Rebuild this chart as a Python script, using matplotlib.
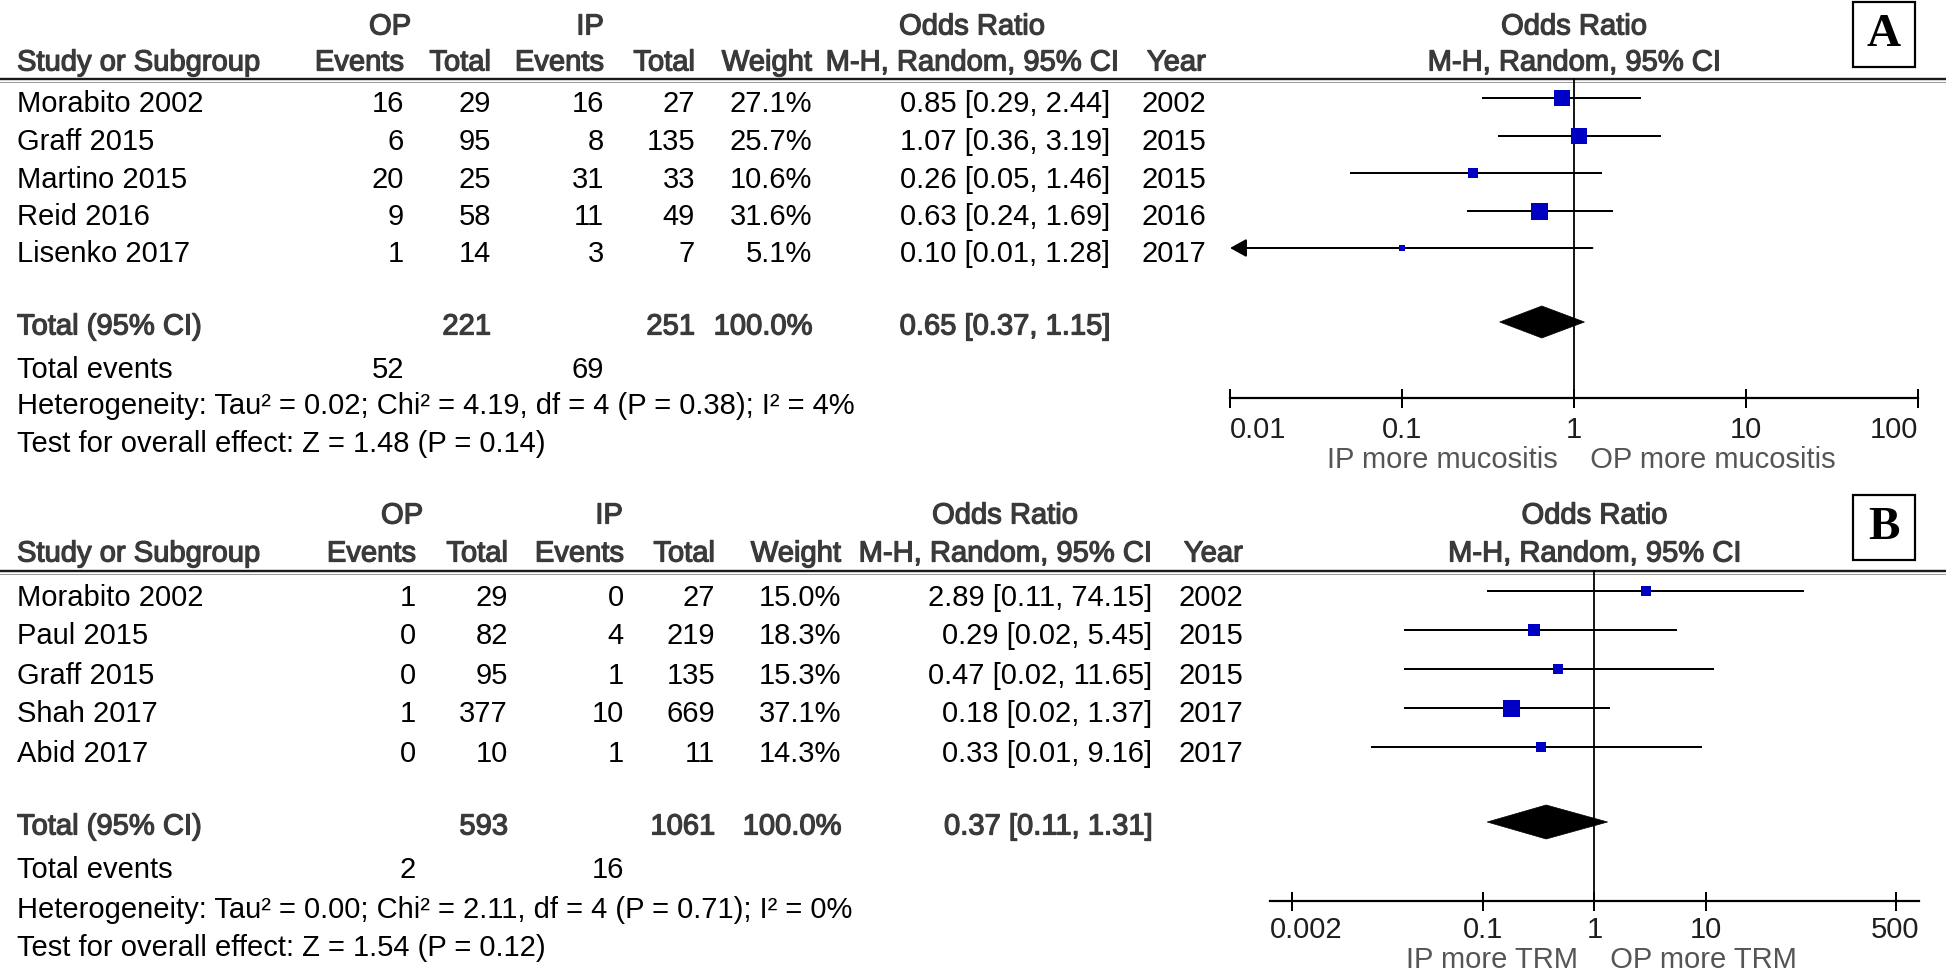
import matplotlib
matplotlib.use('Agg')
import matplotlib.pyplot as plt
import matplotlib.patheffects as pe
from matplotlib.patches import Rectangle, Polygon
from matplotlib.ticker import NullLocator

# figure size in pixels, everything below is laid out in these units
W, H = 1946, 976
FONT = 'Liberation Sans'
FS = 21
GREY = '#3a3a3a'
BLUE = '#0000c4'
PT = 0.72  # points per pixel at dpi 100

# ---- panel A : mucositis
a_studies = ['Morabito 2002', 'Graff 2015', 'Martino 2015', 'Reid 2016', 'Lisenko 2017']
a_op_events = [16, 6, 20, 9, 1]
a_op_total = [29, 95, 25, 58, 14]
a_ip_events = [16, 8, 31, 11, 3]
a_ip_total = [27, 135, 33, 49, 7]
a_weight = [27.1, 25.7, 10.6, 31.6, 5.1]
a_or = [0.85, 1.07, 0.26, 0.63, 0.10]
a_lo = [0.29, 0.36, 0.05, 0.24, 0.01]
a_hi = [2.44, 3.19, 1.46, 1.69, 1.28]
a_year = [2002, 2015, 2015, 2016, 2017]
a_totals = [221, 251]
a_total_weight = 100.0
a_total_events = [52, 69]
a_pooled = [0.65, 0.37, 1.15]
a_het = 'Heterogeneity: Tau² = 0.02; Chi² = 4.19, df = 4 (P = 0.38); I² = 4%'
a_test = 'Test for overall effect: Z = 1.48 (P = 0.14)'
a_ticks = [0.01, 0.1, 1, 10, 100]
a_ticklabels = ['0.01', '0.1', '1', '10', '100']
a_xlim = [0.01, 100]
a_favours = ['IP more mucositis', 'OP more mucositis']

# ---- panel B : TRM
b_studies = ['Morabito 2002', 'Paul 2015', 'Graff 2015', 'Shah 2017', 'Abid 2017']
b_op_events = [1, 0, 0, 1, 0]
b_op_total = [29, 82, 95, 377, 10]
b_ip_events = [0, 4, 1, 10, 1]
b_ip_total = [27, 219, 135, 669, 11]
b_weight = [15.0, 18.3, 15.3, 37.1, 14.3]
b_or = [2.89, 0.29, 0.47, 0.18, 0.33]
b_lo = [0.11, 0.02, 0.02, 0.02, 0.01]
b_hi = [74.15, 5.45, 11.65, 1.37, 9.16]
b_year = [2002, 2015, 2015, 2017, 2017]
b_totals = [593, 1061]
b_total_weight = 100.0
b_total_events = [2, 16]
b_pooled = [0.37, 0.11, 1.31]
b_het = 'Heterogeneity: Tau² = 0.00; Chi² = 2.11, df = 4 (P = 0.71); I² = 0%'
b_test = 'Test for overall effect: Z = 1.54 (P = 0.12)'
b_ticks = [0.002, 0.1, 1, 10, 500]
b_ticklabels = ['0.002', '0.1', '1', '10', '500']
b_xlim = [0.00126, 795]
b_favours = ['IP more TRM', 'OP more TRM']

# layout (pixels): text row centres, column right edges, plot span
lay_a = dict(top=0, bot=488, h1=24, h2=60, line=79, row0=98, dy=37.5, total=324,
             events=367, het=404, test=442, axis=398, ticklab=428, fav=457, dia=32,
             cols=[404, 491, 604, 695, 812, 1110, 1206], op_c=390, ip_c=590, or_c=972,
             px0=1230, px1=1918, box=(1853, 2), letter='A')
lay_b = dict(top=488, bot=976, h1=513, h2=551, line=571, row0=591, dy=39, total=824,
             events=868, het=908, test=946, axis=901, ticklab=928, fav=958, dia=34,
             cols=[416, 508, 624, 715, 841, 1152, 1243], op_c=402, ip_c=609, or_c=1005,
             px0=1270, px1=1919, box=(1853, 495), letter='B')

fig = plt.figure(figsize=(W / 100, H / 100), dpi=100)
bg = fig.add_axes([0, 0, 1, 1])
bg.set_xlim(0, W)
bg.set_ylim(H, 0)
bg.axis('off')
renderer = fig.canvas.get_renderer()

heavy = [pe.withStroke(linewidth=0.9, foreground=GREY)]


def put(x, y, s, ha='left', head=False, color='black', ax=None):
    # y is the visual centre of the text line, place baseline below it
    ax = ax or bg
    kw = dict(color=GREY, path_effects=heavy) if head else dict(color=color)
    return ax.text(x, y + 10.5, s, ha=ha, va='baseline', fontsize=FS, family=FONT, **kw)


def panel(lay, studies, op_ev, op_tot, ip_ev, ip_tot, weight, orr, lo, hi, year,
          totals, tot_w, tot_ev, pooled, het, test, ticks, ticklabels, xlim, favours):
    c = lay['cols']
    # headers
    put(lay['op_c'], lay['h1'], 'OP', 'center', head=True)
    put(lay['ip_c'], lay['h1'], 'IP', 'center', head=True)
    put(lay['or_c'], lay['h1'], 'Odds Ratio', 'center', head=True)
    put(17, lay['h2'], 'Study or Subgroup', head=True)
    put(c[0], lay['h2'], 'Events', 'right', head=True)
    put(c[1], lay['h2'], 'Total', 'right', head=True)
    put(c[2], lay['h2'], 'Events', 'right', head=True)
    put(c[3], lay['h2'], 'Total', 'right', head=True)
    put(c[4], lay['h2'], 'Weight', 'right', head=True)
    put(lay['or_c'], lay['h2'], 'M-H, Random, 95% CI', 'center', head=True)
    put(c[6], lay['h2'], 'Year', 'right', head=True)

    # double rule under the header
    bg.plot([0, W], [lay['line'], lay['line']], color='#1a1a1a', lw=2.4 * PT, solid_capstyle='butt')
    bg.plot([0, W], [lay['line'] + 2.8, lay['line'] + 2.8], color='#9a9a9a', lw=1.0 * PT)

    rows = [lay['row0'] + i * lay['dy'] for i in range(len(studies))]
    for i, y in enumerate(rows):
        t = y + 4
        put(17, t, studies[i])
        put(c[0], t, str(op_ev[i]), 'right')
        put(c[1], t, str(op_tot[i]), 'right')
        put(c[2], t, str(ip_ev[i]), 'right')
        put(c[3], t, str(ip_tot[i]), 'right')
        put(c[4], t, f'{weight[i]:.1f}%', 'right')
        put(c[5], t, f'{orr[i]:.2f} [{lo[i]:.2f}, {hi[i]:.2f}]', 'right')
        put(c[6], t, str(year[i]), 'right')

    put(17, lay['total'], 'Total (95% CI)', head=True)
    put(c[1], lay['total'], str(totals[0]), 'right', head=True)
    put(c[3], lay['total'], str(totals[1]), 'right', head=True)
    put(c[4], lay['total'], f'{tot_w:.1f}%', 'right', head=True)
    put(c[5], lay['total'], f'{pooled[0]:.2f} [{pooled[1]:.2f}, {pooled[2]:.2f}]', 'right', head=True)
    put(17, lay['events'], 'Total events')
    put(c[0], lay['events'], str(tot_ev[0]), 'right')
    put(c[2], lay['events'], str(tot_ev[1]), 'right')
    put(17, lay['het'], het)
    put(17, lay['test'], test)

    # forest plot on a log axis
    fa = fig.add_axes([lay['px0'] / W, 1 - lay['bot'] / H,
                       (lay['px1'] - lay['px0']) / W, (lay['bot'] - lay['top']) / H])
    fa.patch.set_visible(False)
    fa.set_xscale('log')
    fa.set_xlim(xlim)
    fa.set_ylim(lay['bot'], lay['top'])
    for s in ['top', 'left', 'right']:
        fa.spines[s].set_visible(False)
    fa.spines['bottom'].set_position(('data', lay['axis']))
    fa.spines['bottom'].set_linewidth(2.2 * PT)
    fa.yaxis.set_visible(False)
    fa.set_xticks(ticks)
    fa.set_xticklabels([])
    fa.xaxis.set_minor_locator(NullLocator())
    fa.tick_params(axis='x', direction='inout', length=19 * PT, width=2 * PT)

    # tick labels are kept inside the axis line, as RevMan does
    ax0, ax1 = fa.transData.transform([(xlim[0], lay['axis']), (xlim[1], lay['axis'])])[:, 0]
    for t, lab in zip(ticks, ticklabels):
        txt = put(t, lay['ticklab'], lab, 'center', color='#1e1e1e', ax=fa)
        bb = txt.get_window_extent(renderer)
        if bb.x0 < ax0:
            txt.set_x(xlim[0])
            txt.set_ha('left')
        elif bb.x1 > ax1:
            txt.set_x(xlim[1])
            txt.set_ha('right')

    put(1, lay['h1'], 'Odds Ratio', 'center', head=True, ax=fa)
    put(1, lay['h2'], 'M-H, Random, 95% CI', 'center', head=True, ax=fa)
    fa.plot([1, 1], [lay['line'], lay['axis']], color='black', lw=1.8 * PT, clip_on=False)

    wmax = max(weight)
    for i, y in enumerate(rows):
        if lo[i] <= xlim[0]:
            fa.annotate('', xy=(xlim[0], y), xytext=(hi[i], y),
                        arrowprops=dict(arrowstyle='-|>,head_length=1.0,head_width=0.55',
                                        color='black', lw=2 * PT, shrinkA=0, shrinkB=0))
        else:
            fa.plot([lo[i], hi[i]], [y, y], color='black', lw=2 * PT, solid_capstyle='butt')
        size = 17 * (weight[i] / wmax) ** 0.5
        fa.plot(orr[i], y, marker='s', ms=size * PT, mew=0, color=BLUE, zorder=3)

    yd = lay['total'] - 2
    hh = lay['dia'] / 2
    fa.add_patch(Polygon([(pooled[1], yd), (pooled[0], yd - hh), (pooled[2], yd), (pooled[0], yd + hh)],
                         closed=True, facecolor='black', edgecolor='black', lw=0.5))

    put(1, lay['fav'], favours[0] + '  ', 'right', color='#555555', ax=fa)
    put(1, lay['fav'], '  ' + favours[1], 'left', color='#555555', ax=fa)

    bx, by = lay['box']
    bg.add_patch(Rectangle((bx, by), 62, 65, fill=False, edgecolor='black', lw=2.2 * PT))
    bg.text(bx + 31, by + 33, lay['letter'], ha='center', va='center', fontsize=34,
            family='Liberation Serif', fontweight='bold')


panel(lay_a, a_studies, a_op_events, a_op_total, a_ip_events, a_ip_total, a_weight,
      a_or, a_lo, a_hi, a_year, a_totals, a_total_weight, a_total_events, a_pooled,
      a_het, a_test, a_ticks, a_ticklabels, a_xlim, a_favours)
panel(lay_b, b_studies, b_op_events, b_op_total, b_ip_events, b_ip_total, b_weight,
      b_or, b_lo, b_hi, b_year, b_totals, b_total_weight, b_total_events, b_pooled,
      b_het, b_test, b_ticks, b_ticklabels, b_xlim, b_favours)

fig.savefig('out.png', dpi=100)
